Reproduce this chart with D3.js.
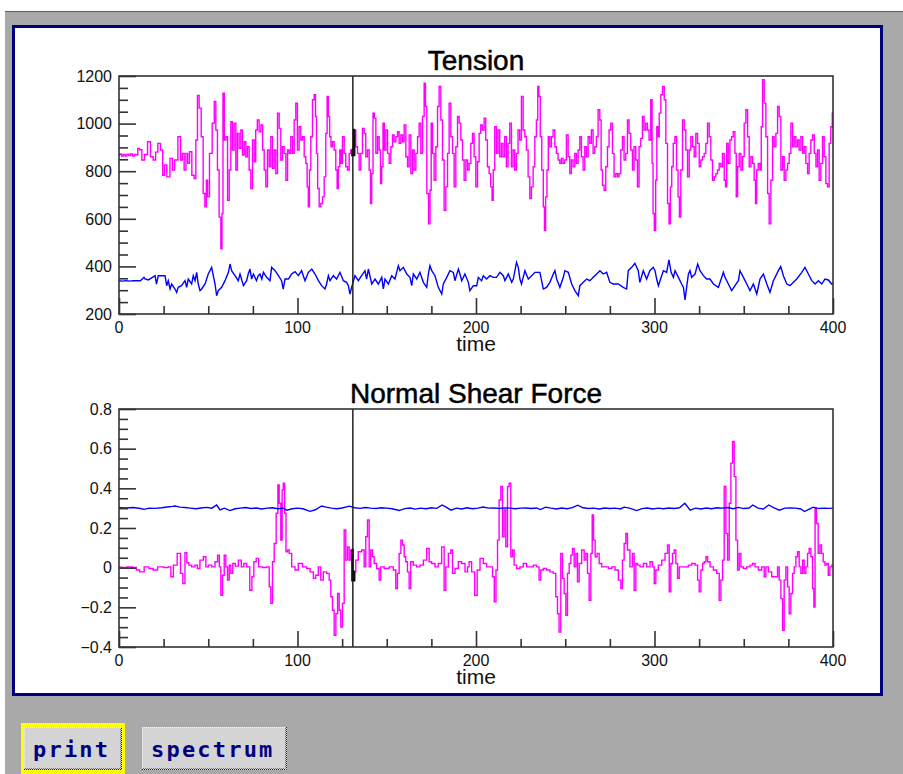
<!DOCTYPE html>
<html>
<head>
<meta charset="utf-8">
<script src="https://cdn.jsdelivr.net/npm/d3@7"></script>
<style>
  html, body { margin: 0; padding: 0; background: #ffffff; }
  svg { display: block; }
</style>
</head>
<body>
<svg id="chart" width="903" height="774"></svg>
<script>
// ---- data ----------------------------------------------------------------
const timeDomain = [0, 400];
const timeTicks = [0, 100, 200, 300, 400];
const cursorTime = 131;

const tensionDomain = [200, 1200];
const tensionTicks = [200, 400, 600, 800, 1000, 1200];
const shearDomain = [-0.4, 0.8];
const shearTicks = [-0.4, -0.2, 0, 0.2, 0.4, 0.6, 0.8];

const buttonLabels = ["print", "spectrum"];

// tension, first channel: [time, value]
const tensionMagenta = [[0,868],[1,872],[2,864],[3,870],[4,864],[5,871],[6,866],[7,872],[8,864],[9,870],[10,868],[11,896],[12,890],[13.6,847],[15,870],[17,924],[18.3,861],[20,847],[21,880],[22.5,917],[24,889],[25,783],[26,826],[27.6,776],[29.5,854],[30.4,805],[32,847],[34,945],[35,847],[36,875],[37,805],[38,875],[39,833],[40,882],[41.6,783],[42.6,769],[43.5,931],[44.4,1118],[45.4,1065],[46.7,945],[47.6,706],[48.6,650],[49.3,762],[50,692],[51.4,875],[53,1002],[53.8,1093],[54.7,973],[55.6,805],[56.6,607],[57.5,474],[57.9,622],[58.6,1128],[59.4,931],[60.3,945],[61.3,678],[62.2,805],[63.1,1008],[64,889],[65,1002],[65.9,805],[66.8,959],[67.8,896],[68.7,973],[69.7,868],[70.6,924],[71.5,861],[72.4,903],[73.4,805],[74.3,727],[75.3,931],[76.2,840],[77,973],[78,1015],[79,966],[80,994],[80.9,889],[81.8,805],[82.7,734],[83.7,889],[84.6,819],[85.5,945],[86.5,812],[87.4,889],[88.3,790],[89.3,1044],[90.2,980],[91.1,847],[92,903],[93,875],[94,762],[94.9,889],[95.8,875],[96.7,945],[97.7,875],[98.6,1015],[99.5,1086],[100.4,889],[101.4,987],[102.3,931],[103.3,945],[104.2,861],[105.1,833],[105.7,734],[106.4,650],[107,805],[107.9,945],[108.9,1100],[109.8,1121],[110.4,1030],[110.9,875],[111.7,727],[112.6,650],[113.5,664],[114.5,692],[115.4,776],[116.3,959],[116.9,1114],[117.6,1030],[118.4,945],[119.1,903],[120.1,924],[121,889],[121.9,805],[122.5,727],[123.2,819],[124.2,889],[124.7,833],[125.7,945],[126.6,875],[127.5,819],[128.5,805],[129.4,875],[130.3,889],[131.3,868],[132.2,973],[133.1,903],[134.1,875],[135,805],[135.9,875],[136.9,980],[137.8,959],[138.7,861],[139.7,889],[140.6,805],[141.2,664],[141.9,790],[142.7,1044],[143.4,1023],[144.4,875],[145.3,945],[146.2,889],[146.8,748],[147.5,819],[148.3,1002],[149,889],[150,973],[150.9,875],[151.8,833],[152.8,903],[153.7,952],[154.6,924],[155.6,945],[156.5,966],[157.4,917],[158.4,952],[159.3,924],[160.2,994],[161.2,861],[162.1,819],[163,952],[164,790],[164.9,889],[165.8,805],[166.8,875],[167.7,945],[168.6,1002],[169.6,875],[170.5,1030],[171.4,1170],[172,1072],[172.9,706],[173.9,579],[174.6,720],[175.2,1002],[176.1,875],[177,762],[178,903],[178.9,1072],[179.8,1156],[180.8,1015],[181.7,847],[182.6,636],[183.6,734],[184.5,875],[185.4,1086],[186.4,945],[187.3,875],[188.2,734],[189.2,903],[190.1,1030],[191,1002],[192,931],[192.9,847],[193.8,762],[194.8,847],[195.7,805],[196.6,833],[197.6,917],[198.5,959],[199.4,861],[200.4,734],[201.3,840],[202.2,959],[203.1,994],[204.1,973],[205,1023],[205.9,931],[206.9,819],[207.8,790],[208.7,734],[209.3,678],[210,805],[211,987],[211.9,875],[212.8,973],[213.8,861],[214.7,917],[215.6,861],[216.6,945],[217.5,819],[218.4,917],[219.4,1002],[220.3,819],[221.2,889],[222.2,805],[223.1,875],[224,973],[225,931],[225.9,1114],[226.9,973],[227.8,945],[228.7,889],[229.7,776],[230.6,685],[231.5,734],[232.5,819],[233.4,945],[234.3,1015],[234.9,1156],[235.6,1114],[236.4,945],[237.3,805],[238.1,650],[238.6,551],[239.4,692],[240.1,805],[240.9,945],[241.8,903],[242.7,945],[243.7,973],[244.6,903],[245.5,875],[246.5,847],[247.4,833],[248.3,854],[249.3,833],[250.2,847],[251.1,952],[252.1,861],[253,790],[253.9,847],[254.9,819],[255.8,875],[256.7,833],[257.7,889],[258.6,945],[259.5,861],[260.5,805],[261.4,903],[262.3,861],[263.3,945],[264.2,917],[265.1,973],[266.1,875],[267,903],[267.9,945],[268.9,1058],[269.8,1015],[270.4,805],[271.3,741],[272.2,720],[273.2,819],[274.1,903],[275,973],[276,1002],[276.9,875],[277.8,776],[278.8,790],[279.7,776],[280.6,790],[281.6,889],[282.5,945],[283.4,847],[284.4,875],[285.3,1015],[286.2,959],[287.2,889],[288.1,805],[289,903],[290,847],[290.9,734],[291.8,903],[292.8,938],[293.7,1030],[294.6,973],[295.6,1002],[296.5,973],[297.4,931],[298.4,1100],[298.9,833],[299.5,622],[300.3,551],[301,762],[301.6,987],[302.2,945],[303.1,1044],[304,1121],[305,1156],[305.9,1100],[306.8,917],[307.8,664],[308.5,579],[309.3,734],[310,819],[311,917],[311.9,945],[312.8,805],[313.6,692],[314.3,607],[315.2,805],[316.2,1015],[317.1,973],[318,889],[319,776],[319.9,889],[320.8,945],[321.8,903],[322.7,861],[323.6,959],[324.6,917],[325.5,819],[326.4,847],[327.4,861],[328.3,875],[329.2,917],[330.2,1002],[331.1,945],[332,847],[333,762],[333.9,776],[334.8,790],[335.8,805],[336.7,833],[337.6,819],[338.6,875],[339.5,762],[340.1,734],[340.8,917],[341.8,833],[342.7,931],[343.6,945],[344.6,966],[345.5,875],[346.1,692],[347,819],[347.9,875],[348.9,805],[349.8,861],[350.7,1002],[351.7,1058],[352.6,945],[353.5,819],[354.5,861],[355.4,833],[356.3,762],[356.9,664],[357.6,805],[358.6,833],[359.5,805],[360.1,987],[361,1184],[361.9,1086],[362.9,945],[363.8,706],[364.7,579],[365.7,762],[366.6,945],[367.5,903],[368.5,959],[369.4,1072],[370.3,1030],[371.3,805],[372.2,861],[373.1,762],[374.1,805],[375,833],[375.9,875],[376.9,1002],[377.8,903],[378.7,945],[379.7,903],[380.6,931],[381.5,889],[382.5,945],[383.4,875],[384.3,903],[385.3,833],[386.2,790],[387.1,875],[388.1,931],[389,952],[390,875],[390.9,819],[391.8,889],[392.7,762],[393.7,833],[394.6,945],[395.5,861],[396.5,748],[397.4,734],[398.3,917],[399.2,987],[400,1044]];

// tension, second channel: [time, value]
const tensionBlue = [[0,340],[2,338],[4,340],[6,338],[8,340],[10,340],[12,340],[14,354],[14.6,347],[16.4,343],[18.3,352],[20.2,361],[21,326],[22,361],[24,361],[25.8,361],[26.7,319],[27.6,340],[28.6,305],[29.5,326],[31.4,305],[32.3,291],[33.2,312],[35,319],[37,340],[37.9,312],[38.8,347],[40.7,326],[41.6,361],[42.6,340],[43.5,375],[44.4,326],[45.4,298],[46.3,305],[48.2,326],[50,368],[51.9,396],[53.8,326],[54.7,277],[55.6,298],[57.5,312],[59.4,340],[61.3,375],[62.2,410],[63.1,382],[65,361],[66.8,340],[67.8,368],[69.7,319],[71.5,340],[72.4,368],[73.4,389],[74.3,347],[75.3,368],[77,340],[78,361],[79,368],[80,347],[80.9,375],[82.7,354],[84.6,340],[85.5,396],[87.4,382],[89.3,361],[91.1,340],[92,305],[93,347],[94.9,347],[96.7,368],[98.6,378],[100.5,361],[102.3,382],[104.2,340],[106.1,375],[108,389],[109.8,368],[111.7,340],[113.5,319],[115.4,305],[116.3,326],[117.3,361],[118.2,340],[120.1,361],[121.9,347],[123.8,375],[125.7,340],[127.5,333],[128.5,319],[129.4,284],[130.3,312],[132.2,361],[134.1,340],[135.9,361],[137.8,382],[138.7,347],[139.7,389],[141.6,326],[143.4,347],[145.3,326],[147.2,354],[148.1,305],[149,347],[150.9,326],[152.8,361],[154.6,347],[156.5,403],[157.4,382],[159.3,396],[161.2,368],[163,354],[164,319],[164.9,368],[166.8,347],[168.6,375],[170.5,333],[172.4,312],[173.3,368],[174.2,403],[175.2,382],[177,361],[178.9,312],[180.8,284],[181.7,326],[183.6,354],[185.4,382],[187.3,375],[188.2,340],[190.1,389],[191,368],[192,340],[193.8,368],[195.7,333],[196.6,298],[198.5,319],[200.4,319],[201.3,354],[203.1,340],[204.1,361],[205.9,347],[207.8,361],[209.7,354],[211.5,354],[213.4,375],[215.3,361],[216.2,340],[218.1,368],[220,333],[220.9,347],[222.7,417],[223.7,396],[224.6,347],[225.5,326],[227.4,382],[229.3,347],[231.2,361],[233,375],[235.8,375],[237.7,305],[239.5,312],[241.4,333],[243.3,368],[244.2,382],[245.2,347],[247,312],[248.9,354],[249.8,382],[251.7,375],[253.6,326],[255.4,298],[257.3,277],[258.2,319],[260.1,333],[262,347],[263.8,340],[265.7,354],[267.6,368],[269.4,382],[271.3,368],[273.2,375],[275,333],[276.9,326],[279.7,326],[282.5,312],[284.4,305],[285.3,382],[287.2,396],[289,413],[290.9,382],[291.8,333],[293.7,382],[295.6,347],[297.4,382],[299.3,396],[300.3,382],[301.2,347],[302.2,319],[304,361],[305,382],[306.8,375],[308.1,427],[309.3,375],[310.6,354],[311.5,382],[313.4,354],[315.2,326],[316.2,312],[317.1,259],[318,312],[319,368],[319.9,382],[320.8,354],[322.7,368],[324.2,410],[325.5,382],[327.4,361],[329.2,347],[331.1,347],[333,326],[335.8,312],[338.6,375],[339.5,354],[341.4,326],[343.2,298],[345.1,319],[347,340],[347.9,382],[349.8,354],[351.7,326],[353.5,298],[355.4,326],[357.3,284],[359.1,347],[361,368],[362.9,326],[364.7,291],[366.6,340],[369.4,382],[370.7,399],[372.2,361],[374.1,326],[375.9,319],[377.8,333],[379.7,347],[382.5,375],[384.3,396],[386.2,368],[388.1,340],[390,326],[391.8,340],[393.7,326],[395.5,347],[397.4,343],[399.2,326],[400,330]];

// normal shear force, first channel: [time, value]
const shearMagenta = [[0,0.002],[3,0.001],[6,0.003],[9,0.001],[10.5,-0.012],[12.7,-0.021],[15.5,0.004],[18,-0.004],[20.2,-0.012],[23,0.004],[26.7,0.001],[28.6,0.004],[29.5,-0.046],[31.4,0.013],[33.8,0.072],[35.1,-0.029],[36.4,-0.08],[37.5,0.075],[38.5,0.025],[39.8,0.013],[41.6,0.004],[43.5,0.013],[44.4,-0.004],[46.3,0.038],[48.2,0.055],[49.1,0.004],[51,0.013],[52.9,0.004],[54.7,0.03],[55.8,0.063],[56.6,0.004],[57.5,-0.139],[58.5,-0.038],[59.4,0.063],[60.3,0.004],[61.3,-0.063],[62.2,0.013],[63.1,-0.029],[64.4,0.021],[65.9,0.008],[67.8,0.038],[69.3,0.004],[70.6,0.021],[72.5,0.004],[74,-0.114],[74.9,-0.046],[76.2,0.03],[77.5,0.047],[79,0.004],[81.8,0.001],[83.7,0.004],[84.6,-0.097],[85.5,-0.18],[86.5,0.03],[87.4,0.122],[88.7,0.274],[89.3,0.417],[90.2,0.325],[91.1,0.139],[91.7,0.392],[92.4,0.426],[93.2,0.274],[93.9,0.08],[94.9,0.089],[95.8,0.072],[97.7,0.004],[99.5,-0.012],[101.4,0.021],[104.2,0.004],[106.1,-0.004],[108,-0.021],[109.8,-0.054],[110.7,-0.038],[112.6,0.004],[113.5,-0.063],[115.4,-0.021],[117.3,-0.029],[118.2,-0.063],[119.1,-0.147],[120.1,-0.215],[121,-0.341],[122,-0.232],[122.9,-0.13],[123.8,-0.215],[124.7,-0.299],[125.7,-0.18],[126.6,0.19],[127.5,0.038],[128.5,0.105],[129.4,0.038],[130.3,0.089],[131.3,-0.063],[132.2,-0.021],[133.1,0.038],[135,0.08],[136.9,0.089],[137.8,0.004],[138.7,0.156],[139.7,0.24],[140.6,0.004],[141.5,0.089],[142.5,0.055],[143.4,0.021],[145.3,-0.004],[146.2,-0.063],[147.1,0.004],[150,-0.004],[152.7,0.004],[154.6,-0.012],[155.5,-0.105],[156.5,-0.029],[157.4,0.072],[158.4,0.139],[159.3,0.114],[160.2,0.055],[161.1,0.03],[162.1,-0.021],[163,-0.105],[163.9,0.03],[165.8,0.013],[167.7,0.004],[169.6,0.013],[171.4,0.038],[173.3,0.097],[174.2,0.03],[176.1,0.021],[178,0.004],[179.8,0.021],[181.7,0.105],[182.6,-0.114],[183.6,0.004],[185.4,0.072],[186.4,0.089],[187.3,-0.029],[189.2,-0.004],[191,0.03],[192.9,0.021],[194.8,-0.021],[195.7,0.004],[196.6,0.03],[198.5,-0.021],[200,-0.139],[201.3,-0.012],[203.2,0.047],[205,0.021],[206.9,0.004],[208.8,0.004],[209.7,-0.046],[210.8,-0.172],[211.6,-0.012],[212.5,0.139],[213.4,0.341],[214.4,0.409],[215.3,0.156],[216.2,0.291],[217.2,0.105],[218.1,0.409],[219,0.426],[220,0.055],[220.9,0.089],[221.8,0.013],[223.7,-0.004],[225.6,0.004],[227.4,0.021],[229.3,0.004],[231.2,0.004],[233,0.013],[234.9,0.004],[235.8,-0.063],[236.8,-0.012],[238.6,-0.004],[240.5,-0.012],[242.4,-0.021],[244.2,-0.029],[245.2,-0.147],[246.1,-0.232],[247,-0.324],[248,0.072],[248.9,-0.054],[249.9,-0.13],[250.8,-0.24],[251.7,-0.029],[252.7,0.021],[253.6,0.063],[254.5,0.097],[255.5,0.004],[256.4,0.072],[257.3,-0.071],[258.3,0.021],[260.1,0.089],[261.1,0.038],[262,0.072],[262.9,-0.029],[263.9,-0.164],[264.8,0.072],[265.4,0.266],[266.3,0.139],[267.2,0.055],[268.5,0.072],[269.5,0.021],[271.3,0.004],[273.2,0.004],[275.1,-0.004],[277,0.004],[278.8,-0.012],[280.7,-0.063],[281.6,-0.105],[282.5,0.038],[283.5,0.122],[284.4,0.173],[285.3,0.089],[287.2,0.004],[288.1,0.072],[289.1,-0.114],[290,0.021],[291,0.013],[292.8,0.004],[294.7,0.021],[296.6,0.004],[298.4,0.03],[299.4,0.004],[300.3,-0.08],[301.2,-0.012],[303.1,0.013],[305,0.038],[306.8,0.072],[307.8,0.114],[308.7,-0.122],[309.6,0.021],[310.6,0.072],[311.5,0.089],[312.4,0.021],[313.4,-0.054],[314.3,0.004],[316.2,0.004],[318.1,0.004],[319.9,0.013],[321.8,0.021],[323.7,0.013],[324.6,-0.063],[325.5,-0.122],[326.5,-0.012],[327.4,0.021],[328.3,0.03],[329.3,0.055],[330.2,0.03],[332.1,0.004],[333.9,-0.012],[335.8,-0.029],[336.7,-0.164],[337.7,-0.063],[338.6,0.038],[339.5,0.409],[340.5,0.173],[341.4,0.038],[342.3,0.325],[343.3,0.527],[344.2,0.636],[345.1,0.459],[346.1,0.139],[347,-0.012],[347.9,0.072],[348.9,0.004],[350.7,-0.004],[352.6,0.004],[354.5,0.013],[355.4,0.021],[357.3,0.004],[359.1,-0.012],[361,0.004],[361.9,-0.046],[362.9,0.004],[364.7,-0.021],[366.6,-0.046],[368.5,-0.046],[369.4,0.004],[370.3,-0.063],[371.3,-0.156],[372.2,-0.316],[373.1,-0.063],[374.1,0.004],[375,-0.097],[375.9,-0.232],[376.9,-0.13],[377.8,-0.029],[378.7,0.004],[379.7,0.055],[380.6,0.08],[381.5,0.004],[382.5,-0.029],[383.4,0.038],[384.3,-0.029],[385.3,0.004],[386.2,0.072],[387.1,0.097],[388.1,0.055],[389,-0.105],[389.6,-0.198],[390.3,0.3],[391.2,0.223],[392.2,0.072],[393.1,0.114],[394,0.072],[395,0.03],[395.9,0.013],[396.9,0.021],[397.8,-0.038],[398.7,0.004],[400,0.013]];

// normal shear force, second channel: [time, value]
const shearBlue = [[0,0.302],[4,0.301],[8,0.303],[12,0.298],[14,0.294],[17,0.3],[20,0.299],[24,0.302],[27,0.306],[30,0.309],[31.4,0.311],[34,0.305],[37,0.303],[40,0.3],[43,0.297],[46,0.301],[49,0.304],[52,0.3],[54.7,0.316],[56.6,0.291],[59,0.3],[62.2,0.288],[65,0.297],[68,0.3],[71,0.303],[74,0.298],[77,0.301],[80,0.296],[83,0.3],[86,0.302],[89,0.297],[92,0.3],[94,0.29],[97,0.297],[100,0.3],[103,0.297],[107,0.284],[110,0.292],[113.5,0.311],[116,0.305],[119,0.3],[122,0.297],[125,0.301],[129,0.31],[132,0.302],[135,0.299],[138,0.303],[141,0.3],[144,0.298],[147,0.302],[150,0.3],[153,0.297],[157,0.288],[160,0.298],[163,0.301],[166,0.295],[169,0.3],[172,0.297],[175,0.302],[178,0.299],[181,0.316],[183,0.306],[186,0.29],[189,0.3],[192,0.296],[195,0.302],[198,0.297],[201,0.3],[204,0.306],[207,0.3],[210,0.301],[213,0.299],[216,0.301],[219,0.3],[222,0.297],[225,0.3],[228,0.301],[231,0.298],[234,0.301],[236,0.293],[239,0.305],[242,0.3],[245,0.296],[248,0.301],[251,0.297],[254,0.303],[257,0.315],[260,0.302],[263,0.298],[266,0.3],[269,0.296],[272,0.301],[275,0.298],[278,0.3],[281,0.296],[283,0.305],[286,0.3],[290,0.288],[293,0.298],[296,0.301],[299,0.296],[302,0.3],[305,0.297],[308,0.301],[311,0.298],[314,0.302],[317,0.325],[320,0.29],[323,0.3],[326,0.296],[329,0.301],[332,0.297],[335,0.302],[338,0.3],[341,0.303],[344,0.297],[347,0.304],[350,0.298],[353,0.301],[355,0.316],[358,0.3],[361,0.296],[364,0.316],[367,0.301],[370,0.29],[373,0.3],[376,0.301],[379,0.3],[382,0.296],[384,0.283],[387,0.297],[389,0.305],[392,0.298],[395,0.3],[398,0.299],[400,0.3]];

// ---- drawing -------------------------------------------------------------
const svg = d3.select("#chart");
const FONT = "'Liberation Sans', Arial, Helvetica, sans-serif";
const MAGENTA = "#ff00ff";
const BLUE = "#0000ff";

// window chrome: grey backdrop and framed white panel
svg.append("rect").attr("x", 5).attr("y", 11).attr("width", 898).attr("height", 763).attr("fill", "#a9a9a9");
svg.append("line").attr("x1", 5).attr("x2", 903).attr("y1", 11.5).attr("y2", 11.5)
  .attr("stroke", "#5a5f5a").attr("stroke-width", 1);
svg.append("rect").attr("x", 13.5).attr("y", 26.5).attr("width", 868).attr("height", 668)
  .attr("fill", "#ffffff").attr("stroke", "#00007f").attr("stroke-width", 3);

const plotLeft = 119, plotRight = 833, plotHeight = 238;
const x = d3.scaleLinear().domain(timeDomain).range([plotLeft, plotRight]);

function drawPanel(top, title, domain, ticks, fmt, series) {
  const y = d3.scaleLinear().domain(domain).range([top + plotHeight, top]);
  const g = svg.append("g");
  const clipId = "clip" + Math.round(top);
  svg.append("clipPath").attr("id", clipId).append("rect")
    .attr("x", plotLeft).attr("y", top).attr("width", plotRight - plotLeft).attr("height", plotHeight);

  // series: the magenta channel is drawn as sample-and-hold steps
  series.forEach(s => {
    const line = d3.line().curve(s.step ? d3.curveStep : d3.curveLinear)
      .x(d => x(d[0])).y(d => y(d[1]));
    g.append("path").datum(s.data)
      .attr("clip-path", `url(#${clipId})`)
      .attr("fill", "none").attr("stroke", s.color).attr("stroke-width", 1.4)
      .attr("d", line);
  });

  // cursor line
  g.append("line").attr("x1", x(cursorTime)).attr("x2", x(cursorTime))
    .attr("y1", top).attr("y2", top + plotHeight)
    .attr("stroke", "#222").attr("stroke-width", 1.5);

  // samples under the cursor are highlighted in black
  const near = series[0].data.filter(d => Math.abs(d[0] - cursorTime) <= 1.2);
  g.append("path").datum(near)
    .attr("fill", "none").attr("stroke", "#111").attr("stroke-width", 2.6)
    .attr("d", d3.line().curve(d3.curveStep).x(d => x(d[0])).y(d => y(d[1])));

  // frame
  g.append("rect").attr("x", plotLeft).attr("y", top)
    .attr("width", plotRight - plotLeft).attr("height", plotHeight)
    .attr("fill", "none").attr("stroke", "#333").attr("stroke-width", 1.6);

  // left axis: inward ticks, minor every quarter of a major step
  const yStep = ticks[1] - ticks[0];
  const yMinor = d3.range(0, Math.round((domain[1] - domain[0]) / (yStep / 4)) + 1)
    .map(i => domain[0] + i * yStep / 4);
  const ya = g.append("g").attr("transform", `translate(${plotLeft},0)`)
    .call(d3.axisRight(y).tickValues(yMinor).tickSize(0).tickFormat(""));
  ya.select(".domain").remove();
  ya.selectAll(".tick line").remove();
  ya.selectAll(".tick").append("line")
    .attr("x1", 0).attr("x2", (d, i) => (i % 4 === 0 ? 17 : 9))
    .attr("stroke", "#333").attr("stroke-width", 1.6);

  g.selectAll(".ylab").data(ticks).join("text")
    .attr("x", plotLeft - 7).attr("y", d => y(d)).attr("dy", "0.36em")
    .attr("text-anchor", "end").attr("font-family", FONT).attr("font-size", 16)
    .attr("fill", "#111").text(fmt);

  // bottom axis
  const xMinor = d3.range(0, 17).map(i => timeDomain[0] + i * 25);
  const xa = g.append("g").attr("transform", `translate(0,${top + plotHeight})`)
    .call(d3.axisTop(x).tickValues(xMinor).tickSize(0).tickFormat(""));
  xa.select(".domain").remove();
  xa.selectAll(".tick line").remove();
  xa.selectAll(".tick").append("line")
    .attr("y1", 0).attr("y2", (d, i) => (i % 4 === 0 ? -16 : -8))
    .attr("stroke", "#333").attr("stroke-width", 1.6);

  g.selectAll(".xlab").data(timeTicks).join("text")
    .attr("x", d => x(d)).attr("y", top + plotHeight + 19)
    .attr("text-anchor", "middle").attr("font-family", FONT).attr("font-size", 16)
    .attr("fill", "#111").text(d => d);

  g.append("text").attr("x", (plotLeft + plotRight) / 2).attr("y", top + plotHeight + 37)
    .attr("text-anchor", "middle").attr("font-family", FONT).attr("font-size", 21)
    .attr("fill", "#111").text("time");

  g.append("text").attr("x", (plotLeft + plotRight) / 2).attr("y", top - 6)
    .attr("text-anchor", "middle").attr("font-family", FONT).attr("font-size", 28)
    .attr("fill", "#000").attr("stroke", "#000").attr("stroke-width", 0.5).text(title);
}

drawPanel(76, "Tension", tensionDomain, tensionTicks, d => d,
  [{ data: tensionMagenta, color: MAGENTA, step: true }, { data: tensionBlue, color: BLUE, step: false }]);
drawPanel(409, "Normal Shear Force", shearDomain, shearTicks, d => d3.format("")(+d.toFixed(1)),
  [{ data: shearMagenta, color: MAGENTA, step: true }, { data: shearBlue, color: BLUE, step: false }]);

// buttons
const buttons = [
  { label: buttonLabels[0], x: 24, w: 98, focus: true },
  { label: buttonLabels[1], x: 142, w: 145, focus: false }
];
const by = 727, bh = 43;
buttons.forEach(b => {
  const g = svg.append("g");
  if (b.focus) {
    g.append("rect").attr("x", b.x - 3).attr("y", by - 4).attr("width", b.w + 6).attr("height", bh + 8)
      .attr("fill", "#ffff00");
  }
  g.append("rect").attr("x", b.x).attr("y", by).attr("width", b.w).attr("height", bh).attr("fill", "#d4d4d4");
  // light dotted edge top/left
  g.append("path").attr("d", `M${b.x + 0.5},${by + bh}V${by + 0.5}H${b.x + b.w}`)
    .attr("fill", "none").attr("stroke", "#f4f4f4").attr("stroke-width", 1).attr("stroke-dasharray", "1,1");
  // dark dotted edge bottom/right
  g.append("path").attr("d", `M${b.x},${by + bh - 0.5}H${b.x + b.w - 0.5}V${by}`)
    .attr("fill", "none").attr("stroke", "#222").attr("stroke-width", 1).attr("stroke-dasharray", "1,1");
  g.append("path").attr("d", `M${b.x + 1},${by + bh - 1.5}H${b.x + b.w - 1.5}V${by + 1}`)
    .attr("fill", "none").attr("stroke", "#777").attr("stroke-width", 1).attr("stroke-dasharray", "1,1");
  g.append("text").attr("x", b.x + 9).attr("y", by + 30)
    .attr("font-family", "'DejaVu Sans Mono', 'Liberation Mono', monospace").attr("font-weight", "bold")
    .attr("font-size", 22).attr("letter-spacing", 2.2).attr("fill", "#00007f").text(b.label);
});
</script>
</body>
</html>
